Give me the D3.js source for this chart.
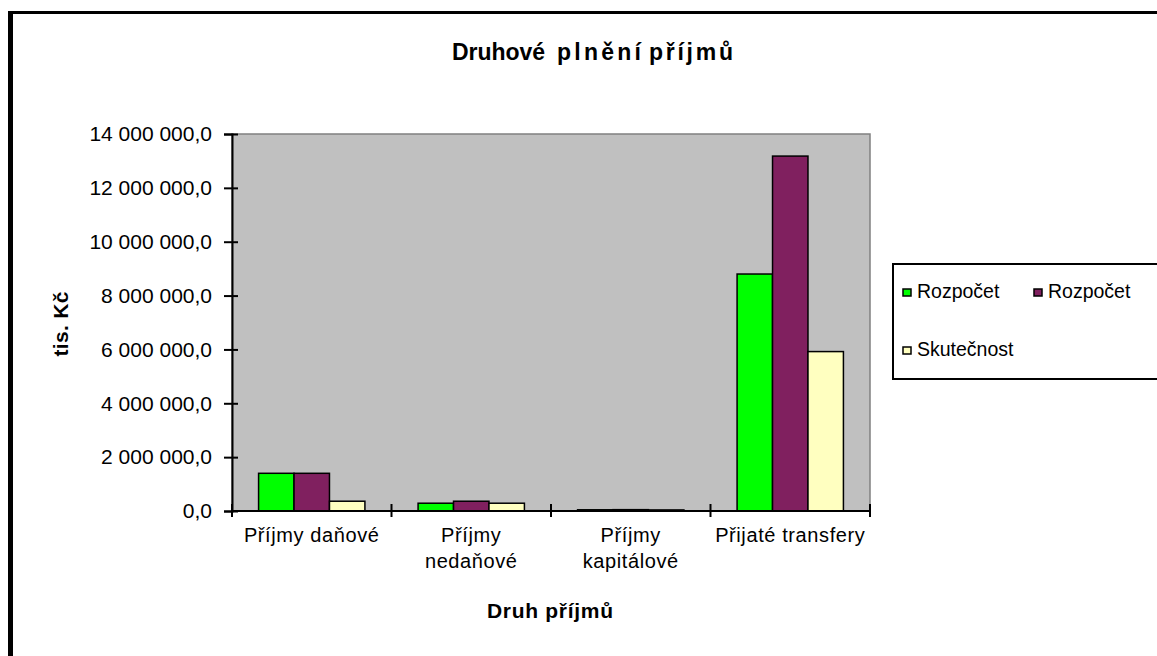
<!DOCTYPE html>
<html>
<head>
<meta charset="utf-8">
<script src="https://cdn.jsdelivr.net/npm/d3@7"></script>
<style>
  body { margin: 0; background: #fff; }
  text { font-family: "Liberation Sans", Arial, sans-serif; fill: #000; }
</style>
</head>
<body>
<svg id="chart" width="1157" height="656"></svg>
<script>
// Data
const categories = ["Příjmy daňové", "Příjmy nedaňové", "Příjmy kapitálové", "Přijaté transfery"];
const seriesNames = ["Rozpočet", "Rozpočet", "Skutečnost"];
const rozpocetSchvaleny = [1400000, 289000, 45000, 8800000];
const rozpocetUpraveny = [1400000, 363000, 50000, 13180000];
const skutecnost = [363000, 289000, 40000, 5920000];
const yTicks = [0, 2000000, 4000000, 6000000, 8000000, 10000000, 12000000, 14000000];
const titleWords = ["Druhové", "plnění", "příjmů"];

const seriesValues = [rozpocetSchvaleny, rozpocetUpraveny, skutecnost];
const colors = ["#00ff00", "#80205f", "#ffffc0"];

const svg = d3.select("#chart");
const width = 1157, height = 656;
const plot = { left: 232, right: 870, top: 134, bottom: 511 };

svg.append("rect").attr("width", width).attr("height", height).attr("fill", "#fff");

// outer frame (only top and left are visible)
svg.append("rect").attr("x", 8).attr("y", 11).attr("width", 5).attr("height", height - 11).attr("fill", "#000");
svg.append("rect").attr("x", 8).attr("y", 11).attr("width", width - 8).attr("height", 3).attr("fill", "#000");

// Scales
const x0 = d3.scaleBand().domain(d3.range(categories.length)).range([plot.left, plot.right]);
const x1 = d3.scaleBand().domain(d3.range(seriesNames.length)).range([0, x0.bandwidth()])
  .paddingInner(0).paddingOuter(0.75);
const y = d3.scaleLinear().domain([0, 14000000]).range([plot.bottom, plot.top]);

const cz = d3.formatLocale({ decimal: ",", thousands: " ", grouping: [3], currency: ["", ""] });
const fmt = cz.format(",.1f");

// plot area
svg.append("rect")
  .attr("x", plot.left).attr("y", plot.top)
  .attr("width", plot.right - plot.left).attr("height", plot.bottom - plot.top)
  .attr("fill", "#c0c0c0").attr("stroke", "#808080").attr("stroke-width", 1.5);

// bars
const groups = svg.append("g").selectAll("g")
  .data(categories.map((c, i) => seriesValues.map((s, j) => ({ i, j, v: s[i] }))))
  .join("g")
  .attr("transform", (d, i) => `translate(${x0(i)},0)`);

groups.selectAll("rect")
  .data(d => d)
  .join("rect")
  .attr("x", d => x1(d.j))
  .attr("y", d => y(d.v))
  .attr("width", x1.bandwidth())
  .attr("height", d => y(0) - y(d.v))
  .attr("fill", d => colors[d.j])
  .attr("stroke", "#000")
  .attr("stroke-width", 1.5);

// Y axis
const yAxis = svg.append("g")
  .attr("transform", `translate(${plot.left},0)`)
  .call(d3.axisLeft(y).tickValues(yTicks).tickFormat(fmt).tickSize(8).tickPadding(12));
yAxis.select(".domain").attr("stroke", "#000").attr("stroke-width", 2);
yAxis.selectAll(".tick line").attr("x1", 6).attr("stroke", "#000").attr("stroke-width", 2);
yAxis.selectAll(".tick text")
  .attr("font-size", 21)
  .style("font-family", '"Liberation Sans", Arial, sans-serif');

// X axis line and crossing ticks at band boundaries
svg.append("line")
  .attr("x1", plot.left).attr("x2", plot.right)
  .attr("y1", plot.bottom).attr("y2", plot.bottom)
  .attr("stroke", "#000").attr("stroke-width", 2);
const boundaries = d3.range(categories.length + 1).map(i => i < categories.length ? x0(i) : plot.right);
svg.append("g").selectAll("line")
  .data(boundaries)
  .join("line")
  .attr("x1", d => d).attr("x2", d => d)
  .attr("y1", plot.bottom - 7).attr("y2", plot.bottom + 6)
  .attr("stroke", "#000").attr("stroke-width", 2);

// category labels, wrapped to the band
svg.append("g").selectAll("text")
  .data(categories)
  .join("text")
  .attr("x", (d, i) => x0(i) + x0.bandwidth() / 2)
  .attr("y", 542)
  .attr("text-anchor", "middle")
  .attr("font-size", 20)
  .attr("letter-spacing", 0.6)
  .each(function (d) {
    const t = d3.select(this);
    t.text(d);
    if (this.getComputedTextLength() > x0.bandwidth() - 6) {
      t.text(null);
      d.split(" ").forEach((w, k) => {
        t.append("tspan").attr("x", t.attr("x")).attr("dy", k ? 26 : 0).text(w);
      });
    }
  });

// title: each word laid out like the original, which spaces them unevenly
const titleX = [452, 557, 649];
const titleW = [93, 84, 84];
svg.append("g").selectAll("text")
  .data(titleWords)
  .join("text")
  .attr("x", (d, i) => titleX[i]).attr("y", 60)
  .attr("font-size", 23).attr("font-weight", "bold")
  .attr("textLength", (d, i) => titleW[i]).attr("lengthAdjust", "spacing")
  .text(d => d);

svg.append("text")
  .attr("x", 550).attr("y", 618)
  .attr("text-anchor", "middle")
  .attr("font-size", 21).attr("font-weight", "bold")
  .attr("textLength", 126).attr("lengthAdjust", "spacing")
  .text("Druh příjmů");

svg.append("text")
  .attr("transform", "translate(68,324) rotate(-90)")
  .attr("text-anchor", "middle")
  .attr("font-size", 21).attr("font-weight", "bold")
  .attr("textLength", 65).attr("lengthAdjust", "spacing")
  .text("tis. Kč");

// legend
const legend = svg.append("g");
legend.append("rect")
  .attr("x", 893).attr("y", 264).attr("width", 270).attr("height", 115)
  .attr("fill", "#fff").attr("stroke", "#000").attr("stroke-width", 2);
const legendPos = [[903, 298], [1034, 298], [903, 356]];
const items = legend.selectAll("g.item")
  .data(seriesNames)
  .join("g")
  .attr("class", "item")
  .attr("transform", (d, i) => `translate(${legendPos[i][0]},${legendPos[i][1]})`);
items.append("rect")
  .attr("x", 0).attr("y", -9).attr("width", 8).attr("height", 7)
  .attr("fill", (d, i) => colors[i]).attr("stroke", "#000").attr("stroke-width", 1.5);
items.append("text")
  .attr("x", 14).attr("y", 0)
  .attr("font-size", 19.5)
  .text(d => d);
</script>
</body>
</html>
